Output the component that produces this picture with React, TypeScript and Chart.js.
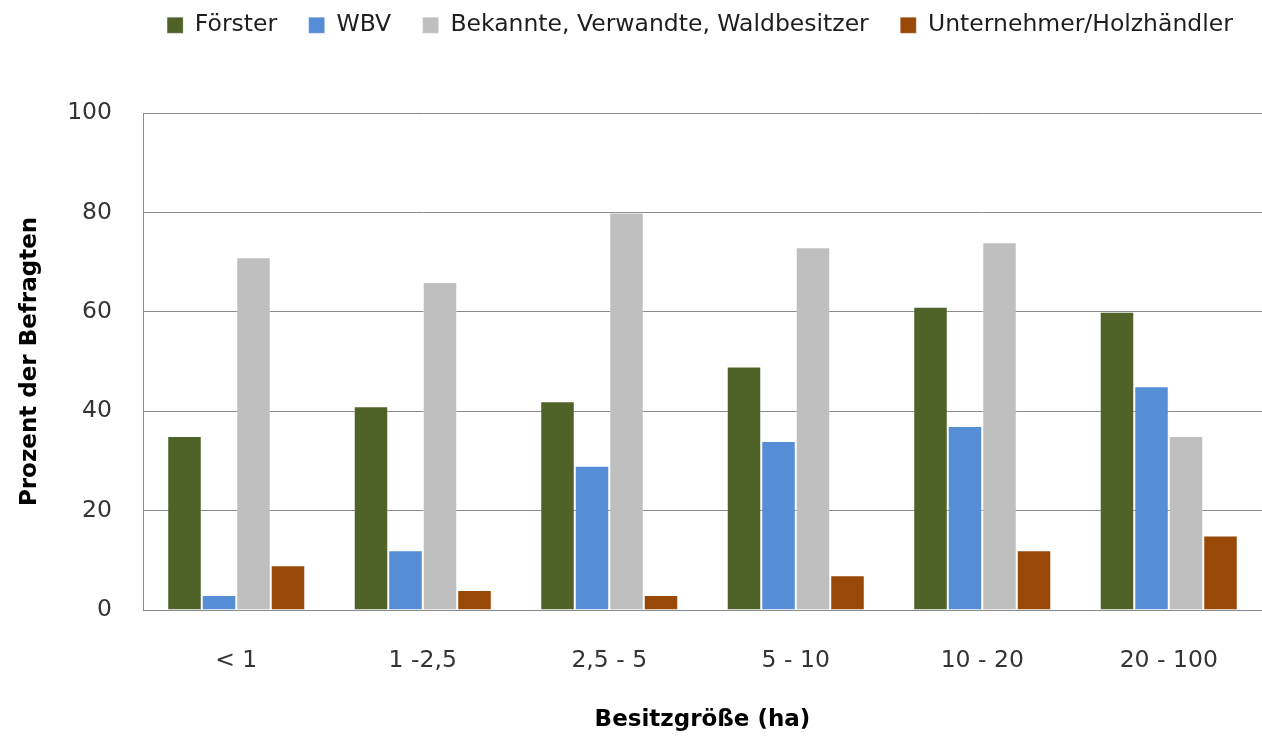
import React, { useEffect, useRef } from 'react';
import { Chart, registerables } from 'chart.js';

Chart.register(...registerables);

const categories = ['< 1', '1 -2,5', '2,5 - 5', '5 - 10', '10 - 20', '20 - 100'];
const foerster = [35, 41, 42, 49, 61, 60];
const wbv = [3, 12, 29, 34, 37, 45];
const bekannte = [71, 66, 80, 73, 74, 35];
const unternehmer = [9, 4, 3, 7, 12, 15];
const seriesNames = ['Förster', 'WBV', 'Bekannte, Verwandte, Waldbesitzer', 'Unternehmer/Holzhändler'];
const seriesColors = ['#4F6228', '#558ED5', '#BFBFBF', '#984807'];
const yMin = 0;
const yMax = 100;
const yStep = 20;
const xTitle = 'Besitzgröße (ha)';
const yTitle = 'Prozent der Befragten';

const FONT = '"DejaVu Sans", sans-serif';
const LEGEND_SHIFT = -18;
const LEGEND_SLACK_L = 155;
const LEGEND_SLACK_R = 150;

const legendTweak = {
  id: 'legendTweak',
  beforeInit(chart: any) {
    const legend = chart.legend;
    if (!legend) return;
    const fit = legend.fit;
    legend.fit = function () {
      const mw = this.maxWidth;
      this.maxWidth = 2000;
      fit.call(this);
      this.maxWidth = mw;
      this.width = Math.min(this.width, mw);
      this.height = 113;
    };
    const draw = legend.draw;
    legend.draw = function () {
      const c = this.ctx;
      const l = this.left;
      const r = this.right;
      this.left = l - LEGEND_SLACK_L;
      this.right = r + LEGEND_SLACK_R;
      c.save();
      c.translate(0, LEGEND_SHIFT);
      draw.call(this);
      c.restore();
      this.left = l;
      this.right = r;
    };
  },
};

export default function App() {
  const ref = useRef<HTMLCanvasElement | null>(null);
  useEffect(() => {
    document.body.style.margin = '0';
    const canvas = ref.current;
    if (!canvas) return;
    const seriesValues = [foerster, wbv, bekannte, unternehmer];
    const chart = new Chart(canvas, {
      type: 'bar',
      data: {
        labels: categories,
        datasets: seriesValues.map((vals, i) => ({
          label: seriesNames[i],
          data: vals,
          backgroundColor: seriesColors[i],
          borderColor: 'rgba(255,255,255,0.25)',
          borderWidth: 1,
          categoryPercentage: 0.74,
          barPercentage: 1,
        })),
      },
      options: {
        responsive: false,
        animation: false,
        devicePixelRatio: 1,
        layout: { padding: 0 },
        plugins: {
          tooltip: { enabled: false },
          legend: {
            position: 'top',
            fullSize: false,
            labels: {
              boxWidth: 16,
              boxHeight: 16,
              padding: 31.5,
              color: '#1e1e1e',
              font: { family: FONT, size: 23.5 },
            },
          },
        },
        scales: {
          x: {
            grid: { display: false },
            border: { display: true, color: '#8a8a8a', width: 1 },
            ticks: {
              color: '#333333',
              padding: 29,
              font: { family: FONT, size: 23.5 },
              maxRotation: 0,
            },
            title: {
              display: true,
              text: xTitle,
              color: '#000000',
              font: { family: FONT, size: 23, weight: 'bold' },
              padding: { top: 0, bottom: 2 },
            },
            afterFit(scale: any) {
              scale.height = 126;
            },
          },
          y: {
            min: yMin,
            max: yMax,
            grid: { color: '#8a8a8a', lineWidth: 1, drawTicks: false },
            border: { display: true, color: '#8a8a8a', width: 1 },
            ticks: {
              stepSize: yStep,
              color: '#333333',
              padding: 31,
              font: { family: FONT, size: 23.5 },
            },
            title: {
              display: true,
              text: yTitle,
              color: '#000000',
              font: { family: FONT, size: 23, weight: 'bold' },
              padding: { top: 16, bottom: 0 },
            },
            afterFit(scale: any) {
              scale.width = 143;
            },
          },
        },
      },
      plugins: [legendTweak],
    });
    return () => chart.destroy();
  }, []);
  return <canvas ref={ref} width={1262} height={736} style={{ display: 'block' }} />;
}
